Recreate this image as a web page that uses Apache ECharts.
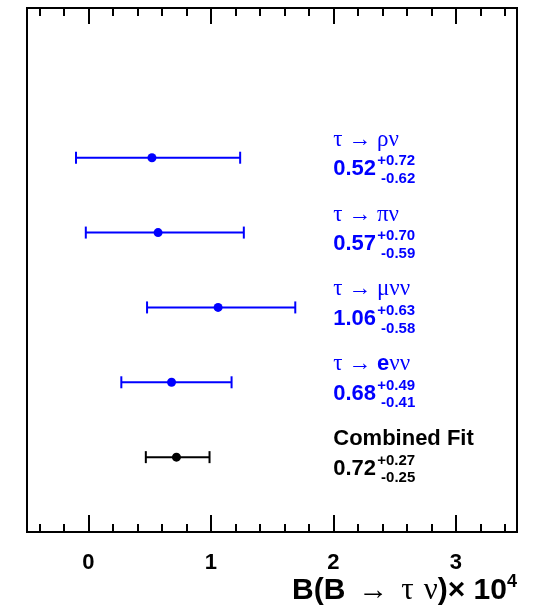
<!DOCTYPE html>
<html><head><meta charset="utf-8">
<script src="https://cdn.jsdelivr.net/npm/echarts@6/dist/echarts.min.js"></script>
<style>html,body{margin:0;padding:0;background:#fff}#c{width:535px;height:616px}</style>
</head><body><div id="c"></div>
<script>
// ---- data ----
const channels = ['τ → ρν', 'τ → πν', 'τ → μνν', 'τ → eνν', 'Combined Fit'];
const central  = [0.52, 0.57, 1.06, 0.68, 0.72];
const errPlus  = [0.72, 0.70, 0.63, 0.49, 0.27];
const errMinus = [0.62, 0.59, 0.58, 0.41, 0.25];
const rowPos   = [5, 4, 3, 2, 1];
const xTickValues = [0, 1, 2, 3];
const xTickLabels = ['0', '1', '2', '3'];
const axisTitle = ['B(B', '→', 'τ', 'ν', ')× 10', '4'];

// ---- style ----
const BLUE = '#0000ff', BLACK = '#000000';
const SANS = '"Liberation Sans", Arial, Helvetica, sans-serif';
const SERIF = '"Liberation Serif", "DejaVu Serif", serif';
const TEXT_X = 2.0;

function labelRich(s) {
  let out = '', cur = null, buf = '';
  for (const ch of s) {
    const t = /[A-Za-z]/.test(ch) ? 'l' : 'g';
    if (t !== cur && buf) { out += '{' + cur + '|' + buf + '}'; buf = ''; }
    cur = t; buf += ch;
  }
  if (buf) out += '{' + cur + '|' + buf + '}';
  return out;
}

const chart = echarts.init(document.getElementById('c'), null, {renderer: 'canvas'});
const data = rowPos.map((r, i) => [central[i], r, errPlus[i], errMinus[i]]);

const minorAxis = (pos, len) => ({
  type: 'value', position: pos, min: -0.5, max: 3.5, splitNumber: 20,
  axisLine: {show: false},
  axisTick: {show: true, inside: true, length: len, lineStyle: {color: BLACK, width: 2}},
  axisLabel: {show: false}, splitLine: {show: false}
});
const majorAxis = (pos, len, labels) => ({
  type: 'value', position: pos, min: -0.5, max: 3.5, splitNumber: 4,
  axisLine: {show: true, lineStyle: {color: BLACK, width: 2}},
  axisTick: {show: true, inside: true, length: len, lineStyle: {color: BLACK, width: 2}},
  axisLabel: labels ? {
    show: true, margin: 20, color: BLACK, fontSize: 22, fontWeight: 'bold', fontFamily: SANS,
    formatter: v => { const k = xTickValues.indexOf(Math.round(v * 1000) / 1000); return k >= 0 ? xTickLabels[k] : ''; }
  } : {show: false},
  splitLine: {show: false}
});

const option = {
  animation: false,
  backgroundColor: '#fff',
  grid: {left: 27, right: 18, top: 8, bottom: 84, show: true, borderColor: BLACK, borderWidth: 2},
  xAxis: [majorAxis('bottom', 17, true), minorAxis('bottom', 8), majorAxis('top', 16, false), minorAxis('top', 8)],
  yAxis: [{type: 'value', min: 0, max: 7, show: false}],
  graphic: [{
    type: 'text', right: 18, top: 573,
    style: {
      text: '{a|' + axisTitle[0] + '}{r|' + axisTitle[1] + '}{g|' + axisTitle[2] + '}{n|' + axisTitle[3] + '}{a|' + axisTitle[4] + '}{s|' + axisTitle[5] + '}',
      rich: {
        a: {fontFamily: SANS, fontWeight: 'bold', fontSize: 30, fill: BLACK, lineHeight: 36},
        r: {fontFamily: SERIF, fontSize: 30, fill: BLACK, lineHeight: 36, padding: [0, 13, 0, 13]},
        g: {fontFamily: SERIF, fontSize: 31, fill: BLACK, lineHeight: 36, padding: [0, 10, 0, 0]},
        n: {fontFamily: SERIF, fontSize: 31, fill: BLACK, lineHeight: 36},
        s: {fontFamily: SANS, fontWeight: 'bold', fontSize: 18, fill: BLACK, verticalAlign: 'top', lineHeight: 36}
      }
    }
  }],
  series: [{
    type: 'custom',
    xAxisIndex: 0, yAxisIndex: 0,
    data: data,
    renderItem: function (params, api) {
      const i = params.dataIndex;
      const x = api.value(0), y = api.value(1);
      const hi = x + api.value(2), lo = x - api.value(3);
      const pc = api.coord([x, y]), pl = api.coord([lo, y]), ph = api.coord([hi, y]);
      const isComb = i === channels.length - 1;
      const col = isComb ? BLACK : BLUE;
      const ls = {stroke: col, lineWidth: 2};
      const ta = api.coord([TEXT_X, y]);
      const rich = {
        g: {fontFamily: SERIF, fontSize: 23, fill: col},
        l: {fontFamily: SANS, fontSize: 22, fontWeight: 'bold', fill: col}
      };
      const labelText = isComb ? '{l|' + channels[i] + '}' : labelRich(channels[i]);
      return {
        type: 'group',
        children: [
          {type: 'line', shape: {x1: pl[0], y1: pl[1], x2: ph[0], y2: ph[1]}, style: ls},
          {type: 'line', shape: {x1: pl[0], y1: pl[1] - 6, x2: pl[0], y2: pl[1] + 6}, style: ls},
          {type: 'line', shape: {x1: ph[0], y1: ph[1] - 6, x2: ph[0], y2: ph[1] + 6}, style: ls},
          {type: 'circle', shape: {cx: pc[0], cy: pc[1], r: 4.5}, style: {fill: col}},
          {type: 'text', x: ta[0], y: ta[1] - 18, style: {text: labelText, rich: rich, align: 'left', verticalAlign: 'middle'}},
          {type: 'text', x: ta[0], y: ta[1] + 11.5, style: {text: x.toFixed(2), fontFamily: SANS, fontSize: 22, fontWeight: 'bold', fill: col, align: 'left', verticalAlign: 'middle'}},
          {type: 'text', x: ta[0] + 44, y: ta[1] + 3.5, style: {text: '+' + api.value(2).toFixed(2), fontFamily: SANS, fontSize: 15, fontWeight: 'bold', fill: col, align: 'left', verticalAlign: 'middle'}},
          {type: 'text', x: ta[0] + 82, y: ta[1] + 21, style: {text: '-' + api.value(3).toFixed(2), fontFamily: SANS, fontSize: 15, fontWeight: 'bold', fill: col, align: 'right', verticalAlign: 'middle'}}
        ]
      };
    }
  }]
};
chart.setOption(option);
</script>
</body></html>
